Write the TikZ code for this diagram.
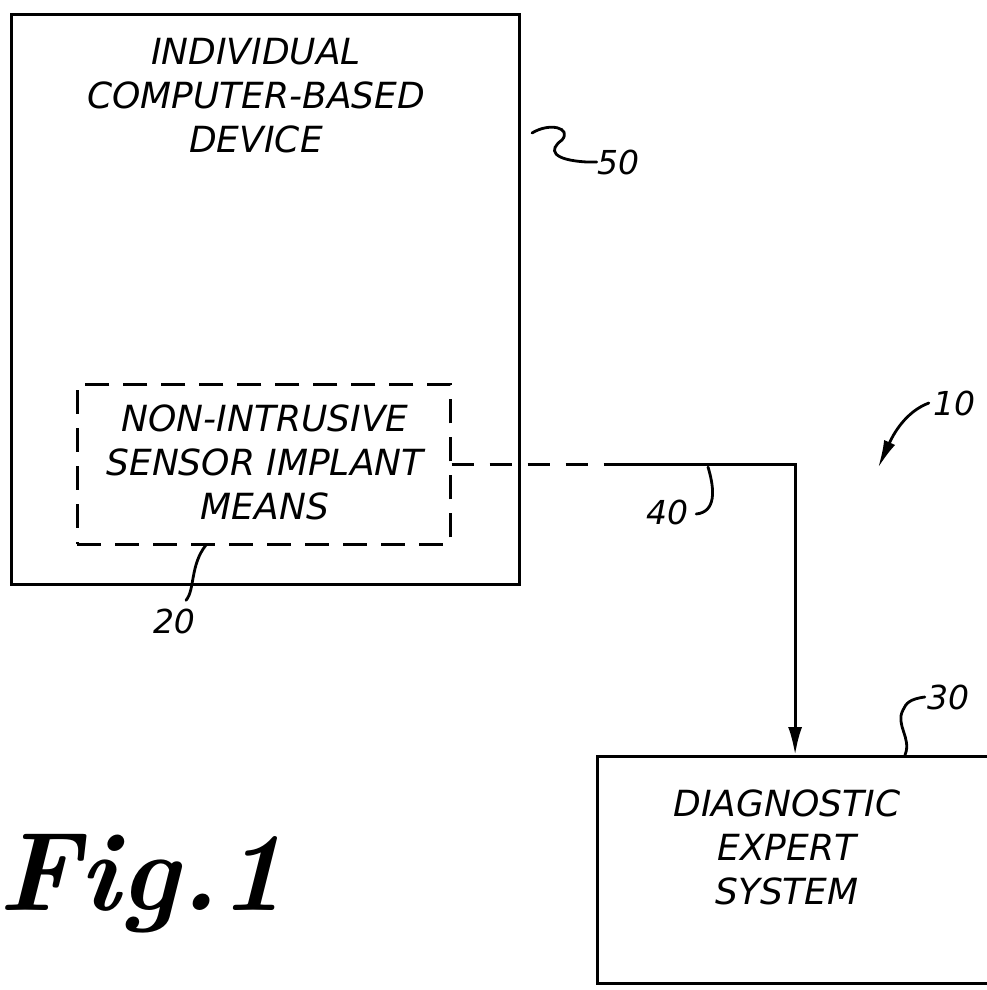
\documentclass[tikz,border=0pt]{standalone}
\usepackage{fontspec}
\newfontfamily\handfont{DejaVu Sans}
\usetikzlibrary{positioning,arrows.meta,calc}

\begin{document}
\begin{tikzpicture}[x=1pt, y=-1pt, >=Latex,
          unit/.style={draw, line width=3.2pt, inner sep=0pt, anchor=north west},
          implant/.style={draw, line width=2.6pt, dash pattern=on 24pt off 14pt, inner sep=0pt, anchor=north west},
          caps/.style={font=\handfont\itshape\fontsize{36}{44}\selectfont, align=center},
          refnum/.style={font=\handfont\itshape\fontsize{33}{33}\selectfont, inner sep=0pt},
          link/.style={line width=3pt},
          leader/.style={line width=2.8pt, line cap=round}]
        \useasboundingbox (0,0) rectangle (986,990);
        % blocks
        \node[unit, minimum width=508pt, minimum height=570pt] (dev) at (10,13) {};
        \node[caps] (devtxt) at (256,96) {INDIVIDUAL\\COMPUTER-BASED\\DEVICE};
        \node[implant, minimum width=373pt, minimum height=160pt] (sens) at (76,383) {};
        \node[caps] (senstxt) at (265,462) {NON-INTRUSIVE\\SENSOR IMPLANT\\MEANS};
        \node[caps] (diagtxt) at (787,847) {DIAGNOSTIC\\EXPERT\\SYSTEM};
        \node[unit, minimum width=395pt, minimum height=227pt] (diag) at (596,755) {};
        % link 40
        \coordinate (solid) at ($(sens.east)+(163,0)$);
        \draw[link, dash pattern=on 22pt off 16pt] (sens.east) -- (solid);
        \draw[link, -{Latex[length=28pt, width=14pt]}] (solid) -| (diag.north);
        % reference numerals
        \node[refnum] (n50) at (618,162) {50};
        \node[refnum] (n40) at (667,512) {40};
        \node[refnum] (n20) at (174,621) {20};
        \node[refnum] (n10) at (954,403) {10};
        \node[refnum] (n30) at (948,697) {30};
        \coordinate (p50) at (532,133);
        \coordinate (p40) at (708,467);
        \coordinate (p20) at (206,545);
        \coordinate (p10) at (878,468);
        \coordinate (p30) at (905,755);
        \draw[leader] (n50.west) -- ++(-10,0) .. controls (552,160) and (548,150) .. (562,140)
          .. controls (572,128) and (550,122) .. (p50);
        \draw[leader] (n40.east) ++(8,2) .. controls (716,512) and (715,490) .. (p40);
        \draw[leader] (n20.north) ++(12,-8) .. controls (195,590) and (190,565) .. (p20);
        \draw[leader, -{Latex[length=28pt, width=12pt]}] (n10.west) ++(-4,0) .. controls (905,412) and (893,435) .. (p10);
        \draw[leader] (n30.west) ++(-2,0) .. controls (910,699) and (906,703) .. (903,710)
          .. controls (895,725) and (912,738) .. (p30);
        % figure label
        \node (fig) at (142,884) {\fontsize{112}{112}\selectfont\bfseries\itshape Fig.1};
      \end{tikzpicture}
\end{document}
